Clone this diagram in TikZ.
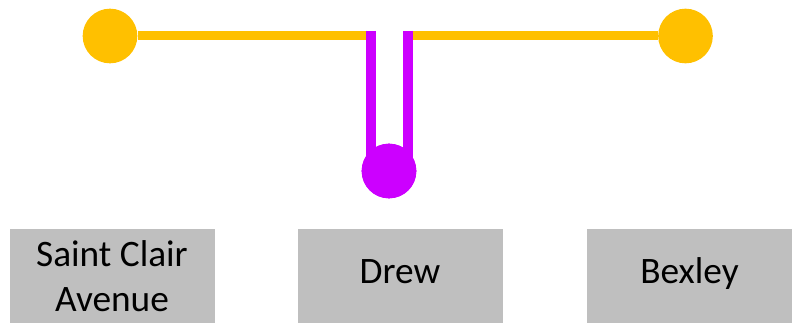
\documentclass[tikz,border=0pt]{standalone}
\usepackage{fontspec}
\setmainfont{Carlito}
\usepackage{tikz}
\tikzset{>=latex}
\usetikzlibrary{positioning}
\definecolor{lineorange}{HTML}{FFC000}
\definecolor{linepurple}{HTML}{CC00FF}
\definecolor{boxgray}{HTML}{BFBFBF}
\tikzset{
    stopdot/.style={circle, fill=#1, inner sep=0pt, minimum size=41pt},
    stationbox/.style={fill=boxgray, inner sep=0pt, minimum width=153.75pt, minimum height=69.75pt, align=center},
    bigname/.style={font=\fontsize{28}{34}\selectfont, text height=1.15em, text depth=0pt},
    smallname/.style={font=\fontsize{28}{33.75}\selectfont}
}

\begin{document}
\begin{tikzpicture}[x=0.75pt, y=-0.75pt]
    	\useasboundingbox (0,0) rectangle (793,324);

    	% stations
    	\node[stationbox, smallname] (sca) at (112,276) {Saint Clair\\Avenue};
    	\node[stationbox, bigname] (drew) at (400,276) {Drew};
    	\node[stationbox, bigname] (bexley) at (689.5,276) {Bexley};

    	% orange line
    	\node[stopdot=lineorange] (wl) at (110,36) {};
    	\node[stopdot=lineorange] (wr) at (685.5,36) {};
    	\coordinate (jl) at (371,36);
    	\coordinate (jr) at (408,36);
    	\draw[lineorange, line width=6.75pt] (wl) -- (jl);
    	\draw[lineorange, line width=6.75pt] (jr) -- (wr);

    	% purple loop
    	\node[stopdot=linepurple] (pd) at (389,171) {};
    	\draw[linepurple, line width=7.5pt] ([yshift=3.75pt]jl) -- (jl |- pd.center);
    	\draw[linepurple, line width=7.5pt] ([yshift=3.75pt]jr) -- (jr |- pd.center);
    	\node[stopdot=linepurple] at (pd) {};
	\end{tikzpicture}
\end{document}
